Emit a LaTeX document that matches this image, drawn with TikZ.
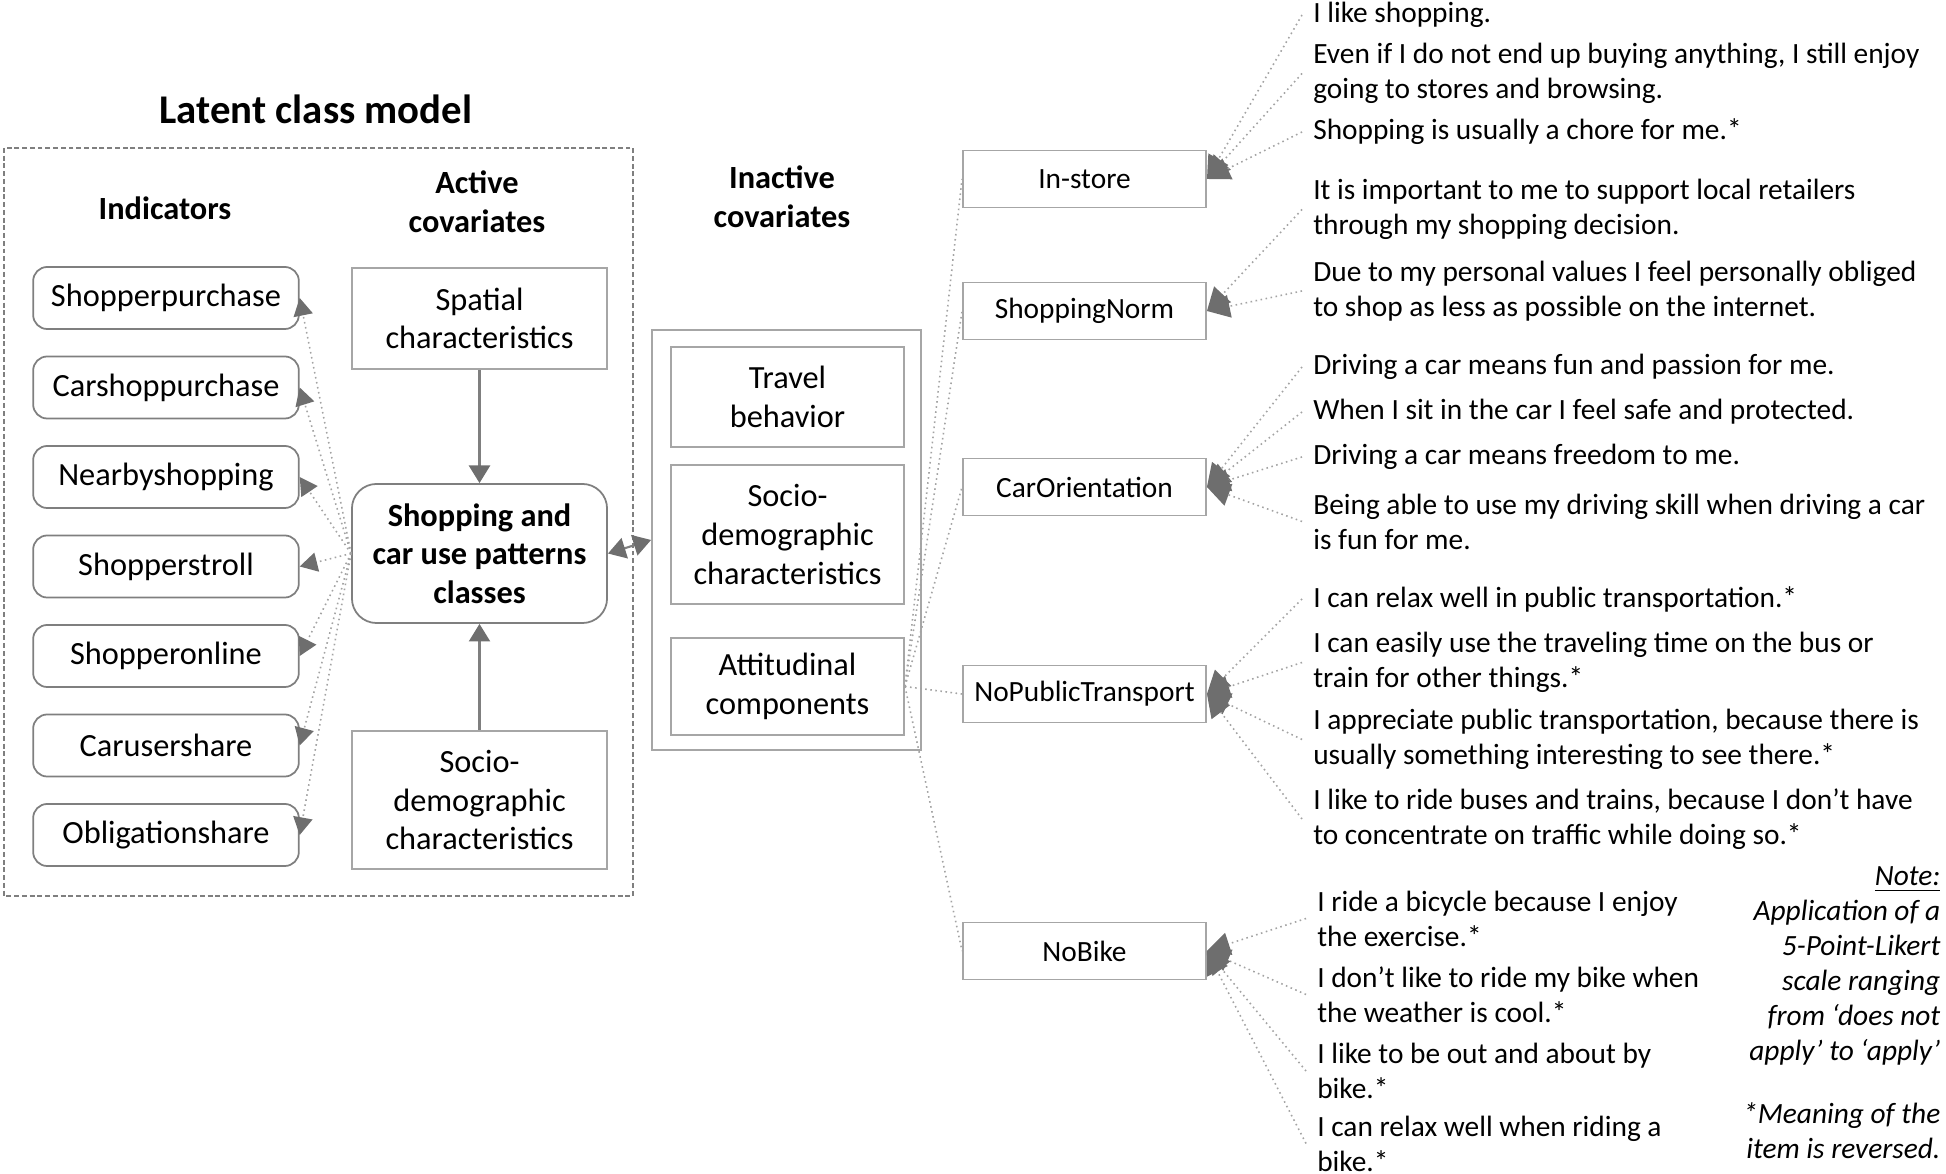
\documentclass[tikz,border=0pt]{standalone}
\usepackage{fontspec}
\setmainfont{Carlito}
\usetikzlibrary{arrows.meta}
\definecolor{boxgray}{HTML}{A6A6A6}
\definecolor{linegray}{HTML}{7F7F7F}
\definecolor{dotgray}{HTML}{A3A3A3}
\definecolor{tipgray}{HTML}{6E6E6E}
\tikzset{
	big/.style={font=\fontsize{9.2}{10.95}\selectfont},
	small/.style={font=\fontsize{8.35}{9.96}\selectfont},
	head/.style={font=\fontsize{9.2}{11.2}\selectfont\bfseries, align=center},
	plainbox/.style={draw=boxgray, line width=0.5pt, big, align=center, inner sep=0pt},
	indbox/.style={plainbox, draw=linegray, rounded corners=4pt, minimum width=2.655cm, minimum height=0.62cm},
	covbox/.style={plainbox, minimum width=2.55cm},
	inbox/.style={plainbox, minimum width=2.33cm},
	facbox/.style={plainbox, small, minimum width=2.43cm, minimum height=0.57cm},
	item/.style={small, align=left, anchor=west, inner xsep=3pt, inner ysep=0pt},
	dotline/.style={dotgray, densely dotted, line width=0.45pt},
	indarrow/.style={dotline, -{Triangle[length=5pt, width=5.5pt, color=tipgray]}},
	itemarrow/.style={dotline, -{Triangle[length=6.5pt, width=6.5pt, color=tipgray]}},
	solidarrow/.style={linegray, line width=0.6pt, -{Triangle[length=5pt, width=6pt, color=tipgray]}}
}
\begin{document}
\begin{tikzpicture}[x=0.01cm, y=-0.01cm]
	\useasboundingbox (0,0) rectangle (1946,1174);
	\node[font=\fontsize{11.6}{14}\selectfont\bfseries] (title) at (316,109) {Latent class model};
	\draw[linegray, line width=0.5pt, dash pattern=on 1.4pt off 0.8pt] (4,148) rectangle (633,896);
	\node[head] (hind) at (165,208) {Indicators};
	\node[head] (hact) at (477,202) {Active\\covariates};
	\node[head] (hinact) at (782,197) {Inactive\\covariates};
	\foreach \n/\t [count=\i] in {sp/Shopperpurchase, csp/Carshoppurchase, nbs/Nearbyshopping, sst/Shopperstroll, son/Shopperonline, cus/Carusershare, obs/Obligationshare}{
		\node[indbox] (\n) at (166,{298+89.5*(\i-1)}) {\t};}
	\node[covbox, minimum height=1.01cm] (spat) at (479.5,318.5) {Spatial\\characteristics};
	\node[covbox, draw=linegray, rounded corners=7pt, minimum height=1.39cm, font=\fontsize{9.2}{10.95}\selectfont\bfseries] (lcm) at (479.5,553.5) {Shopping and\\car use patterns\\classes};
	\node[covbox, minimum height=1.38cm] (socio) at (479.5,800) {Socio-\\demographic\\characteristics};
	\draw[solidarrow] (spat) -- (lcm);
	\draw[solidarrow] (socio) -- (lcm);
	\foreach \n in {sp,csp,nbs,sst,son,cus,obs}{
		\draw[indarrow] (lcm.west) -- (\n.east);}
	\node[plainbox, minimum width=2.69cm, minimum height=4.2cm] (inact) at (786.5,540) {};
	\node[inbox, minimum height=1.0cm] (travel) at (787.5,397) {Travel\\behavior};
	\node[inbox, minimum height=1.39cm] (socinact) at (787.5,534.5) {Socio-\\demographic\\characteristics};
	\node[inbox, minimum height=0.97cm] (att) at (787.5,686.5) {Attitudinal\\components};
	\draw[solidarrow, {Triangle[length=5pt, width=6pt, color=tipgray]}-{Triangle[length=5pt, width=6pt, color=tipgray]}] (lcm.east) -- (inact.west);
	\foreach \f/\y/\t in {ins/179/In-store, sn/311/ShoppingNorm, co/487/CarOrientation, npt/694/NoPublicTransport, nb/951/NoBike}{
		\node[facbox] (\f) at (1084.5,\y) {\t};
		\draw[dotline] (att.east) -- (\f.west);}
	\foreach \f/\x/\y/\t [count=\k] in {
		ins/1302/15/{I like shopping.},
		ins/1302/73.5/{Even if I do not end up buying anything, I still enjoy\\going to stores and browsing.},
		ins/1302/132/{Shopping is usually a chore for me.*},
		sn/1302/209.5/{It is important to me to support local retailers\\through my shopping decision.},
		sn/1302/291/{Due to my personal values I feel personally obliged\\to shop as less as possible on the internet.},
		co/1302/367/{Driving a car means fun and passion for me.},
		co/1302/412/{When I sit in the car I feel safe and protected.},
		co/1302/457/{Driving a car means freedom to me.},
		co/1302/521.5/{Being able to use my driving skill when driving a car\\is fun for me.},
		npt/1302/599/{I can relax well in public transportation.*},
		npt/1302/662.5/{I can easily use the traveling time on the bus or\\train for other things.*},
		npt/1302/739.5/{I appreciate public transportation, because there is\\usually something interesting to see there.*},
		npt/1302/819/{I like to ride buses and trains, because I don't have\\to concentrate on traffic while doing so.*},
		nb/1306/918.5/{I ride a bicycle because I enjoy\\the exercise.*},
		nb/1306/994.5/{I don't like to ride my bike when\\the weather is cool.*},
		nb/1306/1071/{I like to be out and about by\\bike.*},
		nb/1306/1143.5/{I can relax well when riding a\\bike.*}}{
		\node[item] (it\k) at (\x,\y) {\t};
		\draw[itemarrow] (it\k.west) -- (\f.east);}
	\node[small, font=\fontsize{8.35}{9.96}\selectfont\itshape, align=right, anchor=north east, inner sep=0pt] (note) at (1941,866) {\underline{Note:}\\Application of a\\5-Point-Likert\\scale ranging\\from ‘does not\\apply’ to ‘apply’\\[8pt]*Meaning of the\\item is reversed.};
\end{tikzpicture}
\end{document}
